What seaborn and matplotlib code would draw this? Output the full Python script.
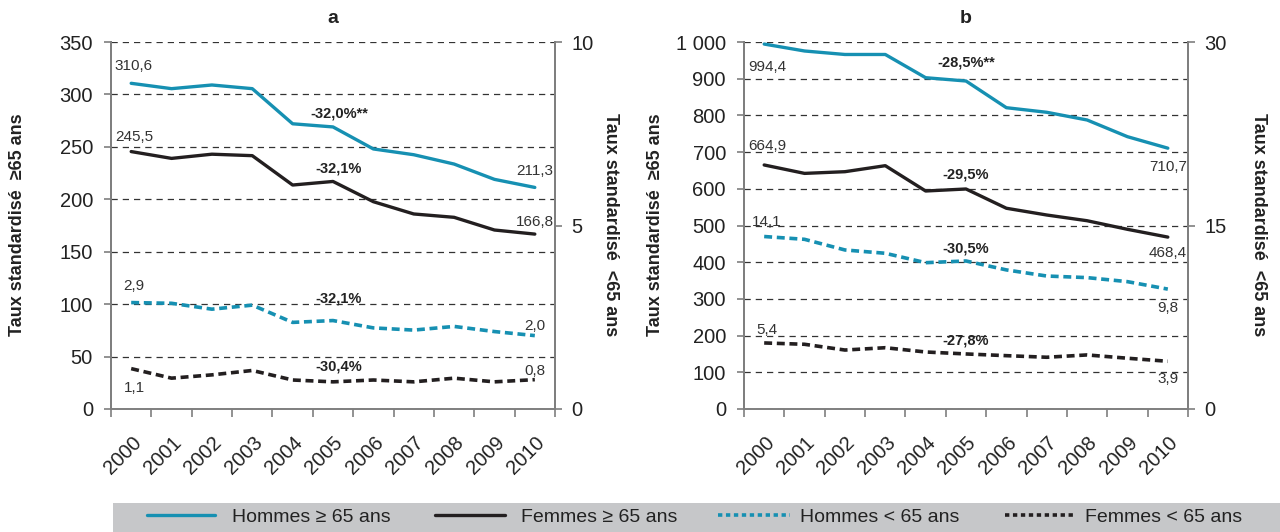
import numpy as np
import pandas as pd
import seaborn as sns
import matplotlib
matplotlib.use("Agg")
import matplotlib.pyplot as plt
from matplotlib import font_manager
from matplotlib.patches import Rectangle
from matplotlib.lines import Line2D
from matplotlib.ticker import FuncFormatter, FixedLocator
import matplotlib.transforms as mtransforms

# ---- data -------------------------------------------------------------
years = ["2000", "2001", "2002", "2003", "2004", "2005",
         "2006", "2007", "2008", "2009", "2010"]

# panel a (left axis: >=65 ans, right axis: <65 ans)
a_hommes_65 = [310.6, 305.5, 309.0, 305.5, 272.0, 269.0, 248.0, 242.5, 233.6, 219.0, 211.3]
a_femmes_65 = [245.5, 239.0, 243.0, 241.6, 213.6, 217.0, 197.7, 186.0, 182.8, 170.7, 166.8]
a_hommes_lt65 = [2.9, 2.88, 2.72, 2.83, 2.36, 2.41, 2.21, 2.15, 2.25, 2.11, 2.0]
a_femmes_lt65 = [1.1, 0.84, 0.93, 1.05, 0.79, 0.74, 0.79, 0.74, 0.84, 0.74, 0.8]
a_pct = ["-32,0%**", "-32,1%", "-32,1%", "-30,4%"]

# panel b
b_hommes_65 = [994.4, 975.5, 966.0, 966.0, 902.7, 893.7, 821.0, 808.5, 787.5, 742.0, 710.7]
b_femmes_65 = [664.9, 642.0, 646.6, 663.0, 594.0, 599.5, 547.0, 528.6, 513.0, 489.6, 468.4]
b_hommes_lt65 = [14.1, 13.87, 13.0, 12.73, 11.96, 12.1, 11.37, 10.87, 10.74, 10.41, 9.8]
b_femmes_lt65 = [5.4, 5.29, 4.82, 5.01, 4.66, 4.5, 4.36, 4.23, 4.42, 4.15, 3.9]
b_pct = ["-28,5%**", "-29,5%", "-30,5%", "-27,8%"]

series_names = ["Hommes \u2265 65 ans", "Femmes \u2265 65 ans",
                "Hommes < 65 ans", "Femmes < 65 ans"]

# ---- style ------------------------------------------------------------
sns.set_theme(style="white")
installed = {f.name for f in font_manager.fontManager.ttflist}
narrow = "Liberation Sans Narrow" in installed
if narrow:
    main_font = "Liberation Sans Narrow"
elif "Liberation Sans" in installed:
    main_font = "Liberation Sans"
else:
    main_font = "DejaVu Sans"
plt.rcParams["font.family"] = [main_font, "DejaVu Sans"]
plt.rcParams["axes.unicode_minus"] = False

# font sizes (narrow face gets a slightly larger size)
k = 1.18 if narrow else 1.0
FS_TICK = 14.5 * k
FS_YLAB = 13.0 * k
FS_VAL = 11.0 * k
FS_PCT = 10.5 * k
FS_LEG = 14.0 * k
FS_TITLE = 14.0

TEAL = "#1690b2"
BLACK = "#231f20"
GRAY = "#7f7f7f"
TXT = "#222222"
DASH = (0, (2.2, 1.3))

W, H = 1280, 532
fig = plt.figure(figsize=(W / 100, H / 100), dpi=100)


def fmt(v):
    return f"{v:.1f}".replace(".", ",")


def thousands(v, _):
    return f"{int(round(v)):,}".replace(",", " ")


def build_panel(left_px, title, left_max, left_step, right_max, right_step,
                h65, f65, hlt, flt, pct, pct_x, pct_y, label_offsets):
    ax = fig.add_axes([left_px / W, (H - 409) / H, 444 / W, 367 / H])
    ax2 = ax.twinx()
    x = np.arange(len(years))

    df = pd.DataFrame({"x": x, "h65": h65, "f65": f65, "hlt": hlt, "flt": flt})

    ax.yaxis.grid(True, linestyle=(0, (5, 4)), color="#333333", linewidth=0.9)
    ax.xaxis.grid(False)
    ax.set_axisbelow(True)

    sns.lineplot(data=df, x="x", y="h65", ax=ax, color=TEAL, linewidth=2.4)
    sns.lineplot(data=df, x="x", y="f65", ax=ax, color=BLACK, linewidth=2.4)
    sns.lineplot(data=df, x="x", y="hlt", ax=ax2, color=TEAL, linewidth=2.6,
                 linestyle=DASH)
    sns.lineplot(data=df, x="x", y="flt", ax=ax2, color=BLACK, linewidth=2.6,
                 linestyle=DASH)

    ax.set_xlim(-0.5, len(years) - 0.5)
    ax.set_ylim(0, left_max)
    ax2.set_ylim(0, right_max)
    ax.set_yticks(np.arange(0, left_max + 1, left_step))
    ax2.set_yticks(np.arange(0, right_max + 1, right_step))
    ax.yaxis.set_major_formatter(FuncFormatter(thousands))
    ax2.yaxis.set_major_formatter(FuncFormatter(lambda v, _: f"{int(v)}"))
    ax.set_xlabel("")
    ax.set_ylabel("")
    ax2.set_ylabel("")

    for a in (ax, ax2):
        a.spines["top"].set_visible(False)
        for s in ("left", "right", "bottom"):
            a.spines[s].set_color(GRAY)
            a.spines[s].set_linewidth(1.4)
    ax2.spines["bottom"].set_visible(False)

    ax.tick_params(axis="y", which="major", direction="out", length=5,
                   width=1.2, color=GRAY, pad=8, labelsize=FS_TICK,
                   labelcolor=TXT, left=True)
    ax2.tick_params(axis="y", which="major", direction="out", length=5,
                    width=1.2, color=GRAY, pad=7, labelsize=FS_TICK,
                    labelcolor=TXT, right=True)

    # category labels at centres, tick marks at the boundaries
    ax.set_xticks(x)
    ax.set_xticklabels(years)
    ax.xaxis.set_minor_locator(FixedLocator(np.arange(-0.5, len(years), 1.0)))
    ax.tick_params(axis="x", which="major", length=0, pad=22,
                   labelsize=FS_TICK, labelcolor=TXT)
    ax.tick_params(axis="x", which="minor", direction="out", length=6,
                   width=1.2, color=GRAY, bottom=True)
    shift = mtransforms.ScaledTranslation(7 / 100, 0, fig.dpi_scale_trans)
    for lab in ax.get_xticklabels():
        lab.set_rotation(45)
        lab.set_ha("right")
        lab.set_va("center")
        lab.set_rotation_mode("anchor")
        lab.set_transform(lab.get_transform() + shift)

    ax.set_title(title, fontsize=FS_TITLE, fontweight="bold", pad=14, color=TXT)

    # first/last value labels
    pairs = [(ax, h65), (ax, f65), (ax2, hlt), (ax2, flt)]
    for (axis, vals), (o_start, o_end) in zip(pairs, label_offsets):
        axis.annotate(fmt(vals[0]), (0, vals[0]), xytext=(2, o_start),
                      textcoords="offset points", ha="center", va="center",
                      fontsize=FS_VAL, color="#333333")
        axis.annotate(fmt(vals[-1]), (len(years) - 1, vals[-1]),
                      xytext=(0, o_end), textcoords="offset points",
                      ha="center", va="center", fontsize=FS_VAL,
                      color="#333333")

    for text, yv in zip(pct, pct_y):
        ax.text(pct_x, yv, text, ha="center", va="center", fontsize=FS_PCT,
                fontweight="bold", color=TXT)
    return ax, ax2


px = 0.72  # points per pixel at 100 dpi
build_panel(111, "a", 350, 50, 10, 5,
            a_hommes_65, a_femmes_65, a_hommes_lt65, a_femmes_lt65,
            a_pct, 5.15, [282, 229, 105, 41],
            [(17 * px, 16 * px), (15 * px, 12 * px),
             (17 * px, 10 * px), (-19 * px, 9 * px)])
build_panel(744, "b", 1000, 100, 30, 15,
            b_hommes_65, b_femmes_65, b_hommes_lt65, b_femmes_lt65,
            b_pct, 5.0, [945, 640, 436, 188],
            [(-23 * px, -19 * px), (19 * px, -16 * px),
             (15 * px, -19 * px), (13 * px, -18 * px)])

# axis titles
ylab_kw = dict(fontsize=FS_YLAB, fontweight="bold", color=TXT,
               va="center", ha="center")
fig.text(18 / W, 1 - 225 / H, "Taux standardis\u00e9  \u226565 ans", rotation=90, **ylab_kw)
fig.text(610 / W, 1 - 225 / H, "Taux standardis\u00e9  <65 ans", rotation=270, **ylab_kw)
fig.text(655 / W, 1 - 225 / H, "Taux standardis\u00e9  \u226565 ans", rotation=90, **ylab_kw)
fig.text(1258 / W, 1 - 225 / H, "Taux standardis\u00e9  <65 ans", rotation=270, **ylab_kw)

# legend band
fig.patches.append(Rectangle((113 / W, 0), 1 - 113 / W, 29 / H,
                             transform=fig.transFigure, facecolor="#c6c7c9",
                             edgecolor="none", zorder=0))
handles = [
    Line2D([], [], color=TEAL, linewidth=2.4),
    Line2D([], [], color=BLACK, linewidth=2.4),
    Line2D([], [], color=TEAL, linewidth=2.6, linestyle=(0, (1.2, 1.0))),
    Line2D([], [], color=BLACK, linewidth=2.6, linestyle=(0, (1.2, 1.0))),
]
leg_px = FS_LEG * 100 / 72
entries = [(147, 68, 17), (435, 70, 16), (718, 72, 10), (1005, 68, 12)]
for h, name, (x0, hlen, tpad) in zip(handles, series_names, entries):
    leg = fig.legend([h], [name], loc="center left",
                     bbox_to_anchor=(x0 / W, 15 / H), frameon=False,
                     fontsize=FS_LEG, handlelength=hlen / leg_px,
                     handletextpad=tpad / leg_px, borderpad=0, borderaxespad=0)
    for t in leg.get_texts():
        t.set_color(TXT)

fig.savefig("out.png", dpi=100)
